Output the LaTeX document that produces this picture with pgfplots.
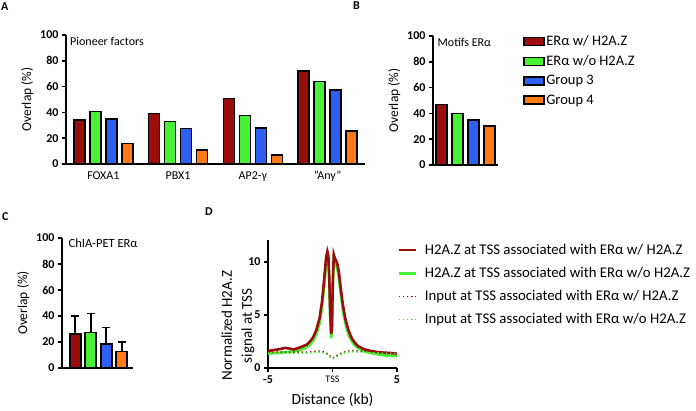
\documentclass[border=0pt]{standalone}
\usepackage{pgfplots}
\pgfplotsset{compat=1.18}
\usepackage{fontspec}
\setmainfont{Carlito}
\definecolor{cRed}{RGB}{155,12,12}
\definecolor{cGreen}{RGB}{70,240,50}
\definecolor{cBlue}{RGB}{45,95,240}
\definecolor{cOrange}{RGB}{255,122,20}
\pgfplotsset{
  prism/.style={
    scale only axis,
    axis x line=bottom, axis y line=left,
    axis line style={-, line width=1.6pt},
    tick align=outside,
    major tick length=4pt,
    tick style={black, line width=1.6pt},
    y tick label style={font=\fontsize{12}{14}\selectfont\bfseries},
    x tick label style={font=\fontsize{12}{14}\selectfont},
    /pgf/number format/assume math mode=true,
    label style={font=\fontsize{13.5}{16}\selectfont},
    clip=false,
  },
  barax/.style={prism, ybar=5pt, bar width=11pt, ymin=0, ymax=100,
    ytick={0,20,...,100}, xtick style={draw=none},
    ylabel={Overlap (\%)}},
  bp/.style={draw=black, line width=1.7pt, fill=#1},
  boxleg/.style={legend image code/.code={\draw[##1,line width=1.6pt] (0pt,-4pt) rectangle (20pt,4pt);}},
}
\begin{document}
\begin{tikzpicture}[x=1pt,y=1pt]
\useasboundingbox (0,0) rectangle (696,411);

% Panel A
\begin{axis}[barax, at={(66pt,247pt)}, anchor=south west,
  width=299pt, height=129pt, xmin=-0.5, xmax=3.5,
  xtick={0,1,2,3}, xticklabels={FOXA1,PBX1,AP2-γ,"Any"}]
\addplot[bp=cRed] coordinates {(0,34.3) (1,39.2) (2,50.8) (3,72.2)};
\addplot[bp=cGreen] coordinates {(0,40.7) (1,33) (2,37.6) (3,63.9)};
\addplot[bp=cBlue] coordinates {(0,34.8) (1,27.6) (2,27.8) (3,57.2)};
\addplot[bp=cOrange] coordinates {(0,16) (1,11.1) (2,7.2) (3,25.8)};
\node[anchor=north west, inner sep=0pt, xshift=4pt, yshift=-2pt,
  font=\fontsize{12}{14}\selectfont] at (rel axis cs:0,1) {Pioneer factors};
\end{axis}

% Panel B
\begin{axis}[barax, at={(433pt,246pt)}, anchor=south west,
  width=65pt, height=129pt, xmin=-1, xmax=1, xtick=\empty,
  legend style={at={(1.385,1.015)}, anchor=north west, draw=none, fill=none,
    inner sep=0pt, font=\fontsize{14.5}{17}\selectfont, row sep=5.3pt,
    nodes={inner sep=1.5pt}},
  legend cell align=left]
\addplot[bp=cRed, boxleg] coordinates {(0,47)};
\addplot[bp=cGreen, boxleg] coordinates {(0,40)};
\addplot[bp=cBlue, boxleg] coordinates {(0,35)};
\addplot[bp=cOrange, boxleg] coordinates {(0,30)};
\legend{ERα w/ H2A.Z, ERα w/o H2A.Z, Group 3, Group 4}
\node[anchor=north west, inner sep=0pt, xshift=4.5pt, yshift=-2pt,
  font=\fontsize{12}{14}\selectfont] at (rel axis cs:0,1) {Motifs ERα};
\end{axis}

% Panel C
\begin{axis}[barax, ybar=4.5pt, at={(62pt,43pt)}, anchor=south west,
  width=71pt, height=130pt, xmin=-36.5, xmax=34.5, xtick=\empty]
\addplot[bp=cRed, error bars/.cd, y dir=plus, y explicit,
  error bar style={line width=1.6pt, black},
  error mark options={rotate=90, mark size=4pt, line width=1.6pt, black}]
  coordinates {(0,25.9) +- (0,14.3)};
\addplot[bp=cGreen, error bars/.cd, y dir=plus, y explicit,
  error bar style={line width=1.6pt, black},
  error mark options={rotate=90, mark size=4pt, line width=1.6pt, black}]
  coordinates {(0,27.2) +- (0,14.6)};
\addplot[bp=cBlue, error bars/.cd, y dir=plus, y explicit,
  error bar style={line width=1.6pt, black},
  error mark options={rotate=90, mark size=4pt, line width=1.6pt, black}]
  coordinates {(0,18.7) +- (0,12.3)};
\addplot[bp=cOrange, error bars/.cd, y dir=plus, y explicit,
  error bar style={line width=1.6pt, black},
  error mark options={rotate=90, mark size=4pt, line width=1.6pt, black}]
  coordinates {(0,12.8) +- (0,7.4)};
\node[anchor=north west, inner sep=0pt, xshift=6.5pt, yshift=-1pt,
  font=\fontsize{12.5}{14}\selectfont] at (rel axis cs:0,1) {ChIA-PET ERα};
\end{axis}

% Panel D
\begin{axis}[prism, at={(268pt,43pt)}, anchor=south west,
  width=129pt, height=128pt, xmin=-5, xmax=5, ymin=0, ymax=12.08,
  xtick={-5,0,5}, xticklabels={\textbf{-5},{\fontsize{10}{12}\selectfont TSS},\textbf{5}},
  ytick={0,5,10},
  xlabel={Distance (kb)},
  xlabel style={font=\fontsize{15.5}{18}\selectfont, yshift=-3pt},
  ylabel={Normalized H2A.Z\\signal at TSS},
  ylabel style={align=center, font=\fontsize{15}{20}\selectfont,
    at={(axis description cs:-0.2326,0.33)}, anchor=center},
  legend style={at={(1.0,0.98)}, anchor=north west, draw=none, fill=none,
    inner sep=0pt, font=\fontsize{14.8}{16}\selectfont, row sep=8.3pt,
    nodes={inner sep=1.5pt}},
  legend cell align=left,
  legend image code/.code={\draw[#1] (0pt,0pt) -- (17pt,0pt); \path (23.5pt,0pt);}]
\addplot[cGreen, line width=2.6pt, forget plot] coordinates {
(-5,1.35) (-4.5,1.4) (-4,1.45) (-3.5,1.5) (-3,1.55) (-2.5,1.7) (-2,1.95)
(-1.75,2.2) (-1.5,2.55) (-1.25,3.2) (-1,4.2) (-0.8,5.8) (-0.6,8.3) (-0.5,9.8)
(-0.4,10.5) (-0.32,10.2) (-0.25,8.2) (-0.18,5.0) (-0.1,2.8) (-0.04,3.5)
(0.02,7.5) (0.1,10.2) (0.2,9.8) (0.3,9.6) (0.4,9.2) (0.5,8.4) (0.65,6.9)
(0.8,5.5) (1,4.2) (1.25,3.1) (1.5,2.5) (1.75,2.1) (2,1.85) (2.5,1.55)
(3,1.4) (3.5,1.3) (4,1.2) (4.5,1.15) (5,1.1)};
\addplot[cRed, line width=2.6pt] coordinates {
(-5,1.6) (-4.5,1.7) (-4,1.8) (-3.7,1.9) (-3.4,1.85) (-3,1.75) (-2.5,1.95)
(-2,2.2) (-1.75,2.5) (-1.5,2.9) (-1.25,3.6) (-1,4.7) (-0.8,6.4) (-0.6,9.0)
(-0.5,10.4) (-0.4,11.0) (-0.32,10.6) (-0.25,8.5) (-0.18,5.2) (-0.1,3.2)
(-0.04,4.0) (0.02,8.0) (0.1,10.7) (0.2,10.3) (0.3,10.1) (0.4,9.7) (0.5,9.0)
(0.65,7.4) (0.8,6.0) (1,4.6) (1.25,3.5) (1.5,2.8) (1.75,2.35) (2,2.05)
(2.5,1.75) (3,1.6) (3.5,1.5) (4,1.45) (4.5,1.4) (5,1.35)};
\addlegendentry{H2A.Z at TSS associated with ERα w/ H2A.Z}
\addlegendimage{cGreen, line width=2.6pt}
\addlegendentry{H2A.Z at TSS associated with ERα w/o H2A.Z}
\addplot[cRed, line width=1.4pt, dash pattern=on 1.4pt off 2.8pt] coordinates {
(-5,1.5) (-4,1.5) (-3,1.5) (-2,1.5) (-1.5,1.55) (-1,1.6) (-0.6,1.5)
(-0.3,1.3) (-0.1,1.0) (0,0.95) (0.2,1.05) (0.5,1.3) (1,1.55) (1.5,1.65)
(2,1.6) (3,1.55) (4,1.5) (5,1.45)};
\addlegendentry{Input at TSS associated with ERα w/ H2A.Z}
\addplot[cGreen, line width=1.4pt, dash pattern=on 1.4pt off 2.8pt] coordinates {
(-5,1.38) (-4,1.38) (-3,1.38) (-2,1.4) (-1.5,1.45) (-1,1.5) (-0.6,1.4)
(-0.3,1.2) (-0.1,0.9) (0,0.85) (0.2,0.95) (0.5,1.2) (1,1.45) (1.5,1.55)
(2,1.5) (3,1.45) (4,1.4) (5,1.35)};
\addlegendentry{Input at TSS associated with ERα w/o H2A.Z}
\end{axis}

% Panel letters
\node[anchor=north west, inner sep=0pt, font=\fontsize{12}{14}\selectfont\bfseries] at (1,408) {A};
\node[anchor=north west, inner sep=0pt, font=\fontsize{12}{14}\selectfont\bfseries] at (353,409) {B};
\node[anchor=north west, inner sep=0pt, font=\fontsize{12}{14}\selectfont\bfseries] at (2,199) {C};
\node[anchor=north west, inner sep=0pt, font=\fontsize{12}{14}\selectfont\bfseries] at (205,203) {D};
\end{tikzpicture}
\end{document}
